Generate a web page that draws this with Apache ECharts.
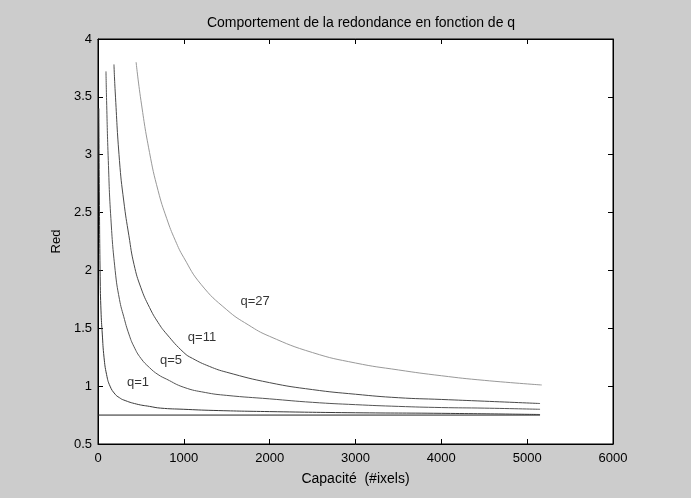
<!DOCTYPE html>
<html>
<head>
<meta charset="utf-8">
<script src="https://cdn.jsdelivr.net/npm/echarts@6/dist/echarts.min.js"></script>
<style>
html,body{margin:0;padding:0;background:#cccccc;}
#chart{width:691px;height:498px;}
</style>
</head>
<body>
<div id="chart"></div>
<script>
// Data
const xTicks = [0, 1000, 2000, 3000, 4000, 5000, 6000];
const yTicks = [0.5, 1, 1.5, 2, 2.5, 3, 3.5, 4];

const q27X = [444, 500, 600, 700, 800, 900, 1000, 1200, 1500, 1750, 2000, 2500, 3000, 3500, 4000, 4500, 5170];
const q27Y = [3.80, 3.47, 3.02, 2.69, 2.45, 2.26, 2.11, 1.88, 1.66, 1.53, 1.43, 1.29, 1.20, 1.14, 1.09, 1.05, 1.01];

const q11X = [186, 200, 250, 300, 360, 420, 500, 600, 700, 800, 1000, 1100, 1300, 1500, 2000, 2500, 3000, 3500, 4000, 4500, 5150];
const q11Y = [3.78, 3.55, 2.95, 2.60, 2.30, 2.05, 1.85, 1.68, 1.55, 1.45, 1.29, 1.24, 1.17, 1.12, 1.03, 0.97, 0.93, 0.90, 0.885, 0.87, 0.85];

const q5X = [93, 100, 120, 150, 200, 250, 300, 360, 420, 500, 600, 700, 800, 1000, 1250, 1500, 2000, 2500, 3000, 3500, 4000, 4500, 5150];
const q5Y = [3.72, 3.47, 2.95, 2.45, 2.00, 1.75, 1.60, 1.45, 1.34, 1.24, 1.16, 1.10, 1.06, 0.99, 0.945, 0.92, 0.89, 0.86, 0.84, 0.825, 0.815, 0.81, 0.80];

const q1X = [10, 15, 25, 35, 50, 70, 100, 140, 200, 250, 300, 450, 600, 730, 1000, 1350, 2000, 3000, 4000, 5150];
const q1Y = [3.40, 2.75, 1.95, 1.65, 1.45, 1.25, 1.10, 1.00, 0.93, 0.90, 0.88, 0.845, 0.825, 0.81, 0.80, 0.79, 0.78, 0.77, 0.765, 0.755];

const baseX = [0, 5150];
const baseY = [0.75, 0.75];

const labelText = ['q=1', 'q=5', 'q=11', 'q=27'];
const labelX = [466, 850, 1212, 1830];
const labelY = [1.035, 1.22, 1.425, 1.735];

function zip(xs, ys) { return xs.map((x, i) => [x, ys[i]]); }

const FONT = 'Liberation Sans';
const chart = echarts.init(document.getElementById('chart'), null, {renderer: 'canvas'});

function lineSeries(name, xs, ys, color, smooth) {
  return {
    name: name, type: 'line', data: zip(xs, ys), showSymbol: false, symbol: 'none',
    smooth: smooth, lineStyle: {color: color, width: 1}, animation: false, z: 3
  };
}

const axisCommon = {
  min: 0, max: 6000, interval: 1000,
  axisLine: {show: true, onZero: false, lineStyle: {color: '#000', width: 1}},
  axisTick: {show: true, inside: true, length: 5, lineStyle: {color: '#000'}},
  splitLine: {show: false}
};

const option = {
  backgroundColor: '#cccccc',
  animation: false,
  title: {
    text: 'Comportement de la redondance en fonction de q',
    left: 356, top: 11, textAlign: 'center',
    textStyle: {fontFamily: FONT, fontSize: 14, fontWeight: 'normal', color: '#000'}
  },
  grid: {left: 98, right: 78, top: 39, bottom: 54, show: true, backgroundColor: '#ffffff', borderColor: '#000', borderWidth: 1},
  xAxis: [
    Object.assign({}, axisCommon, {
      type: 'value', position: 'bottom',
      name: 'Capacité  (#ixels)', nameLocation: 'middle', nameGap: 28,
      nameTextStyle: {fontFamily: FONT, fontSize: 14, color: '#000'},
      axisLabel: {show: true, fontFamily: FONT, fontSize: 13, color: '#000', margin: 8,
        formatter: v => xTicks.includes(v) ? String(v) : ''}
    }),
    Object.assign({}, axisCommon, {
      type: 'value', position: 'top', axisLabel: {show: false}
    })
  ],
  yAxis: [
    {
      type: 'value', min: 0.5, max: 4, interval: 0.5, position: 'left',
      name: 'Red', nameLocation: 'middle', nameGap: 32, nameRotate: 90,
      nameTextStyle: {fontFamily: FONT, fontSize: 13, color: '#000'},
      axisLine: {show: true, onZero: false, lineStyle: {color: '#000', width: 1}},
      axisTick: {show: true, inside: true, length: 5, lineStyle: {color: '#000'}},
      splitLine: {show: false},
      axisLabel: {show: true, fontFamily: FONT, fontSize: 13, color: '#000', margin: 6,
        formatter: v => yTicks.includes(v) ? String(v) : ''}
    },
    {
      type: 'value', min: 0.5, max: 4, interval: 0.5, position: 'right',
      axisLine: {show: true, onZero: false, lineStyle: {color: '#000', width: 1}},
      axisTick: {show: true, inside: true, length: 5, lineStyle: {color: '#000'}},
      splitLine: {show: false}, axisLabel: {show: false}
    }
  ],
  series: [
    lineSeries('base', baseX, baseY, '#222222', false),
    lineSeries('q=1', q1X, q1Y, '#3a3a3a', 0.5),
    lineSeries('q=5', q5X, q5Y, '#555555', 0.5),
    lineSeries('q=11', q11X, q11Y, '#4a4a4a', 0.5),
    lineSeries('q=27', q27X, q27Y, '#999999', 0.5),
    {
      type: 'scatter', symbolSize: 0, animation: false, z: 5,
      data: labelText.map((t, i) => ({name: t, value: [labelX[i], labelY[i]]})),
      label: {show: true, position: 'inside', formatter: p => p.name,
        fontFamily: FONT, fontSize: 13, color: '#000'}
    }
  ]
};
chart.setOption(option);
</script>
</body>
</html>
